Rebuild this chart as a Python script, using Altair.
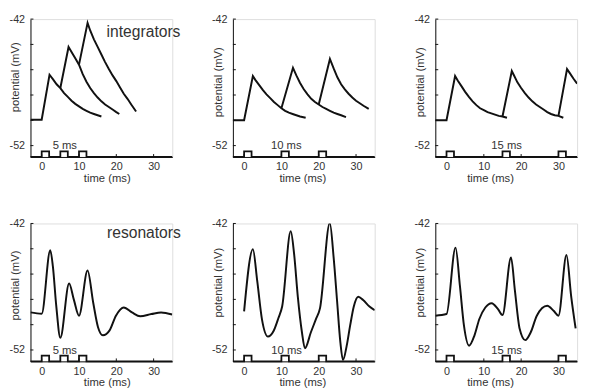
import altair as alt
import pandas as pd

FONT = "Liberation Sans"
INK = "#111111"
TEXT = "#333333"

# ---------------- data ----------------
time_ticks = [0, 10, 20, 30]
volt_labels = [-52, -42]
volt_ticks = [-52, -50, -48, -46, -44, -42]
x_domain = [-3, 35]
y_domain = [-52.9, -42]

panel_names = ["integrators", "", "", "resonators", "", ""]
name_t = [17.4, 17.4, 17.4, 17.5, 17.5, 17.5]
name_v = [-43.38, -43.38, -43.38, -43.13, -43.13, -43.13]
interval_labels = ["5 ms", "10 ms", "15 ms", "5 ms", "10 ms", "15 ms"]
interval_label_t = [6.2, 11.3, 16.1, 6.2, 11.4, 16.1]
interval_label_v = -52.05

pulse_starts_5 = [0, 5, 10]
pulse_starts_10 = [0, 10, 20]
pulse_starts_15 = [0, 15, 30]
pulse_width = 2
stim_low = -52.9
stim_high = -52.45

# integrators, 5 ms
int5_a_t = [-3, 0, 2.1, 3, 4, 5, 6, 7, 8, 9, 10, 11, 12, 13, 14, 15, 16]
int5_a_v = [-49.95, -49.95, -46.4, -46.75, -47.15, -47.45, -47.85, -48.15, -48.45, -48.7, -48.9, -49.1, -49.25, -49.4, -49.5, -49.6, -49.7]
int5_b_t = [5, 7.2, 8, 9, 10, 11, 12, 13, 14, 15, 16, 17, 18, 19, 20, 20.8]
int5_b_v = [-47.45, -44.2, -44.6, -45.1, -45.6, -46.35, -46.95, -47.45, -47.85, -48.2, -48.5, -48.75, -48.95, -49.15, -49.35, -49.5]
int5_c_t = [10, 12.3, 13, 14, 15, 16, 17, 18, 19, 20, 21, 22, 23, 24, 25.3]
int5_c_v = [-45.6, -42.3, -42.9, -43.6, -44.2, -44.8, -45.4, -45.95, -46.45, -46.9, -47.4, -47.9, -48.3, -48.75, -49.3]

# integrators, 10 ms
int10_a_t = [-3, 0, 2.35, 3, 4, 5, 6, 7, 8, 9, 10, 11, 12, 13, 14, 15, 16.5]
int10_a_v = [-50, -50, -46.5, -46.8, -47.2, -47.6, -47.95, -48.25, -48.55, -48.8, -49.05, -49.25, -49.4, -49.5, -49.6, -49.7, -49.8]
int10_b_t = [10, 13.1, 14, 15, 16, 17, 18, 19, 20, 21, 22, 23, 24, 25, 26, 27.3]
int10_b_v = [-49.05, -45.85, -46.45, -47.05, -47.55, -47.95, -48.3, -48.55, -48.75, -48.95, -49.1, -49.25, -49.4, -49.5, -49.6, -49.75]
int10_c_t = [20, 23, 24, 25, 26, 27, 28, 29, 30, 31, 32, 33.4]
int10_c_v = [-48.75, -45.15, -45.9, -46.6, -47.15, -47.55, -47.9, -48.2, -48.45, -48.65, -48.85, -49.1]

# integrators, 15 ms
int15_a_t = [-3, 0, 2.3, 3, 4, 5, 6, 7, 8, 9, 10, 11, 12, 13, 14, 15, 16.2]
int15_a_v = [-50, -50, -46.5, -46.85, -47.3, -47.75, -48.15, -48.5, -48.8, -49.05, -49.2, -49.35, -49.45, -49.55, -49.65, -49.7, -49.8]
int15_b_t = [15, 17.5, 18, 19, 20, 21, 22, 23, 24, 25, 26, 27, 28, 29, 30, 31.3]
int15_b_v = [-49.7, -46.1, -46.4, -47.0, -47.45, -47.85, -48.2, -48.5, -48.75, -48.95, -49.15, -49.35, -49.5, -49.6, -49.65, -49.8]
int15_c_t = [30, 32.3, 33, 34, 35]
int15_c_v = [-49.65, -45.95, -46.25, -46.7, -47.1]

# resonators
res5_t = [-3, 0, 2.3, 3.0, 3.9, 5.0, 7.35, 8.6, 10.0, 12.3, 13.8, 15.1, 16.4, 18.2, 19.9, 22.0, 24.2, 26.4, 29.4, 32.0, 35.0]
res5_v = [-49.03, -49.13, -44.12, -45.4, -48.5, -51.04, -46.75, -48.0, -49.29, -45.72, -48.25, -50.2, -50.84, -50.45, -49.29, -48.64, -49.03, -49.34, -49.16, -49.03, -49.2]

res10_t = [0, 2.36, 3.5, 4.8, 6.4, 7.9, 9.2, 10.2, 12.5, 13.4, 14.4, 15.5, 16.3, 17.9, 19.2, 20.35, 22.97, 24.0, 24.9, 25.8, 26.5, 27.5, 28.4, 29.4, 30.6, 31.9, 33.6, 35.0]
res10_v = [-48.95, -44.04, -46.5, -49.6, -50.94, -50.5, -49.47, -48.56, -42.62, -44.4, -47.8, -50.6, -51.87, -50.6, -49.6, -48.69, -41.97, -44.7, -48.05, -51.4, -52.8, -51.66, -50.1, -48.56, -47.79, -48.05, -48.56, -48.85]

res15_t = [-3, 0, 2.42, 3.6, 4.67, 6.05, 7.5, 8.8, 10.4, 12.1, 13.8, 15.0, 17.29, 18.3, 19.6, 21.1, 22.6, 24.2, 27.0, 28.7, 30.0, 32.15, 33.4, 34.6]
res15_v = [-49.29, -49.16, -43.91, -46.96, -50.06, -51.66, -50.84, -49.55, -48.64, -48.3, -48.77, -49.24, -44.69, -47.22, -50.32, -51.22, -50.58, -49.29, -48.51, -48.9, -49.29, -44.5, -47.74, -50.3]

# title offsets (pixels from plot origin)
x_title_x = [78, 71, 56]
y_title_y = [59, 64, 64, 63, 60, 60]

W = 145
H = 141


def traces_df(traces):
    rows = []
    for k, (ts, vs) in enumerate(traces):
        for i, (t, v) in enumerate(zip(ts, vs)):
            rows.append({"trace": k, "i": i, "t": t, "v": v})
    return pd.DataFrame(rows)


def stim_df(starts):
    ts = [x_domain[0]]
    vs = [stim_low]
    for s in starts:
        ts += [s, s, s + pulse_width, s + pulse_width]
        vs += [stim_low, stim_high, stim_high, stim_low]
    ts.append(x_domain[1])
    vs.append(stim_low)
    return pd.DataFrame({"t": ts, "v": vs, "i": list(range(len(ts)))})


def X(col):
    return alt.X(
        "t:Q",
        scale=alt.Scale(domain=x_domain, nice=False, zero=False),
        axis=alt.Axis(
            values=time_ticks, ticks=False, grid=False,
            domainColor=INK, domainWidth=1,
            labelFont=FONT, labelFontSize=11, labelColor=TEXT, labelPadding=4,
            title="time (ms)", titleFont=FONT, titleFontSize=11.5,
            titleFontWeight="normal", titleColor=TEXT,
            titleX=x_title_x[col], titleY=22, titleAlign="center", titleBaseline="middle",
        ),
    )


def Y(idx):
    return alt.Y(
        "v:Q",
        scale=alt.Scale(domain=y_domain, nice=False, zero=False),
        axis=alt.Axis(
            values=volt_labels, labelExpr="'' + datum.value", ticks=False, grid=False,
            domainColor=INK, domainWidth=1,
            labelFont=FONT, labelFontSize=11, labelColor=TEXT, labelPadding=6,
            title="potential (mV)", titleFont=FONT, titleFontSize=11.5,
            titleFontWeight="normal", titleColor=TEXT,
            titleX=-15, titleY=y_title_y[idx], titleAngle=270,
            titleAlign="center", titleBaseline="middle",
        ),
    )


def panel(idx, traces, starts, interp):
    col = idx % 3
    lines = alt.Chart(traces_df(traces)).mark_line(
        color=INK, strokeWidth=2, interpolate=interp, clip=True
    ).encode(x=X(col), y=Y(idx), detail="trace:N", order="i:Q")

    stim = alt.Chart(stim_df(starts)).mark_line(
        color=INK, strokeWidth=1.8
    ).encode(x=X(col), y=Y(idx), order="i:Q")

    yt = alt.Chart(pd.DataFrame({"v": volt_ticks})).mark_rule(
        color=INK, strokeWidth=1
    ).encode(y=Y(idx), x=alt.value(0), x2=alt.value(3))

    xt = alt.Chart(pd.DataFrame({"t": time_ticks})).mark_rule(
        color=INK, strokeWidth=1
    ).encode(x=X(col), y=alt.value(H), y2=alt.value(H - 3))

    lab = alt.Chart(pd.DataFrame({
        "t": [interval_label_t[idx]], "v": [interval_label_v], "text": [interval_labels[idx]]
    })).mark_text(
        font=FONT, fontSize=11.5, color=TEXT, align="center", baseline="middle"
    ).encode(x=X(col), y=Y(idx), text="text:N")

    layers = [stim, yt, xt, lines, lab]
    if panel_names[idx]:
        name = alt.Chart(pd.DataFrame({
            "t": [name_t[idx]], "v": [name_v[idx]], "text": [panel_names[idx]]
        })).mark_text(
            font=FONT, fontSize=16, color=TEXT, align="left", baseline="alphabetic"
        ).encode(x=X(col), y=Y(idx), text="text:N")
        layers.append(name)

    return alt.layer(*layers).properties(width=W, height=H)


panels = [
    panel(0, [(int5_a_t, int5_a_v), (int5_b_t, int5_b_v), (int5_c_t, int5_c_v)], pulse_starts_5, "linear"),
    panel(1, [(int10_a_t, int10_a_v), (int10_b_t, int10_b_v), (int10_c_t, int10_c_v)], pulse_starts_10, "linear"),
    panel(2, [(int15_a_t, int15_a_v), (int15_b_t, int15_b_v), (int15_c_t, int15_c_v)], pulse_starts_15, "linear"),
    panel(3, [(res5_t, res5_v)], pulse_starts_5, "monotone"),
    panel(4, [(res10_t, res10_v)], pulse_starts_10, "monotone"),
    panel(5, [(res15_t, res15_v)], pulse_starts_15, "monotone"),
]

chart = alt.concat(
    *panels, columns=3, spacing={"row": 68, "column": 62}, bounds="flush", padding=0
).configure_view(stroke=None).configure(background="white")

chart.save("out.html", embed_options={"renderer": "svg", "actions": False})
